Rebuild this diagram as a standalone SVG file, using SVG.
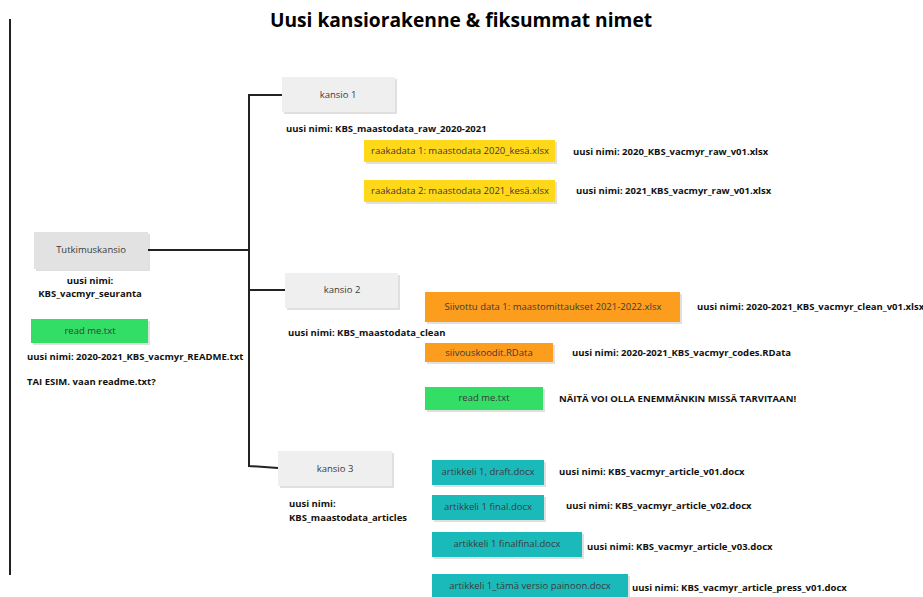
<svg xmlns="http://www.w3.org/2000/svg" width="923" height="597" viewBox="0 0 923 597">
<style>
text{font-family:"Open Sans","Noto Sans","Liberation Sans",sans-serif;}
.title{font-size:19.2px;font-weight:bold;fill:#000;text-anchor:middle;}
.bt{font-size:9.5px;fill:#3a3a3a;text-anchor:middle;}
.lb{font-size:9.5px;font-weight:bold;fill:#111;}
.lbc{font-size:9.5px;font-weight:bold;fill:#111;text-anchor:middle;}
.sh{fill:#000;opacity:0.12;}
.gray{fill:#efefef;}
.gray2{fill:#e2e2e2;}
.yel{fill:#ffd819;}
.ora{fill:#fd9d1e;}
.grn{fill:#33de66;}
.teal{fill:#1bbaba;}
.ln{stroke:#222;stroke-width:2;fill:none;}
</style>
<rect width="923" height="597" fill="#fff"/>
<text class="title" x="461" y="27">Uusi kansiorakenne &amp; fiksummat nimet</text>
<g id="connectors">
<line class="ln" x1="10" y1="19" x2="10" y2="575"/>
<polyline class="ln" points="283,95 249,95 249,466 278,468"/>
<line class="ln" x1="146" y1="250" x2="249" y2="250"/>
<line class="ln" x1="250" y1="290" x2="286" y2="290"/>
</g>
<g id="tutkimuskansio">
<rect class="sh" x="36" y="234" width="114" height="37"/>
<rect class="gray2" x="34" y="232" width="114" height="37"/>
<text class="bt" x="91" y="253">Tutkimuskansio</text>
<text class="lbc" x="90" y="284">uusi nimi:</text>
<text class="lbc" x="90" y="297">KBS_vacmyr_seuranta</text>
</g>
<g id="readme1">
<rect class="sh" x="33" y="321" width="117" height="24"/>
<rect class="grn" x="31" y="319" width="117" height="24"/>
<text class="bt" x="90" y="334">read me.txt</text>
<text class="lb" x="27" y="360">uusi nimi: 2020-2021_KBS_vacmyr_README.txt</text>
<text class="lb" x="27" y="385">TAI ESIM. vaan readme.txt?</text>
</g>
<g id="kansio1">
<rect class="sh" x="284" y="79" width="113" height="35"/>
<rect class="gray" x="282" y="77" width="113" height="35"/>
<text class="bt" x="338" y="98">kansio 1</text>
<text class="lb" x="286" y="132">uusi nimi: KBS_maastodata_raw_2020-2021</text>
</g>
<g id="raakadata1">
<rect class="sh" x="366" y="142" width="191" height="22"/>
<rect class="yel" x="364" y="140" width="191" height="22"/>
<text class="bt" x="460" y="154">raakadata 1: maastodata 2020_kesä.xlsx</text>
<text class="lb" x="573" y="155">uusi nimi: 2020_KBS_vacmyr_raw_v01.xlsx</text>
</g>
<g id="raakadata2">
<rect class="sh" x="366" y="182" width="191" height="22"/>
<rect class="yel" x="364" y="180" width="191" height="22"/>
<text class="bt" x="460" y="194">raakadata 2: maastodata 2021_kesä.xlsx</text>
<text class="lb" x="576" y="194">uusi nimi: 2021_KBS_vacmyr_raw_v01.xlsx</text>
</g>
<g id="kansio2">
<rect class="sh" x="287" y="275" width="113" height="35"/>
<rect class="gray" x="285" y="273" width="113" height="35"/>
<text class="bt" x="342" y="293">kansio 2</text>
<text class="lb" x="288" y="336">uusi nimi: KBS_maastodata_clean</text>
</g>
<g id="siivottu">
<rect class="sh" x="427" y="294" width="255" height="30"/>
<rect class="ora" x="425" y="292" width="255" height="30"/>
<text class="bt" x="553" y="310">Siivottu data 1: maastomittaukset 2021-2022.xlsx</text>
<text class="lb" x="697" y="310">uusi nimi: 2020-2021_KBS_vacmyr_clean_v01.xlsx</text>
</g>
<g id="siivouskoodit">
<rect class="sh" x="427" y="345" width="128" height="19"/>
<rect class="ora" x="425" y="343" width="128" height="19"/>
<text class="bt" x="489" y="356">siivouskoodit.RData</text>
<text class="lb" x="572" y="356">uusi nimi: 2020-2021_KBS_vacmyr_codes.RData</text>
</g>
<g id="readme2">
<rect class="sh" x="427" y="389" width="118" height="23"/>
<rect class="grn" x="425" y="387" width="118" height="23"/>
<text class="bt" x="484" y="401">read me.txt</text>
<text class="lb" x="559" y="402">NÄITÄ VOI OLLA ENEMMÄNKIN MISSÄ TARVITAAN!</text>
</g>
<g id="kansio3">
<rect class="sh" x="280" y="453" width="114" height="35"/>
<rect class="gray" x="278" y="451" width="114" height="35"/>
<text class="bt" x="335" y="472">kansio 3</text>
<text class="lb" x="289" y="507">uusi nimi:</text>
<text class="lb" x="289" y="521">KBS_maastodata_articles</text>
</g>
<g id="artikkeli-draft">
<rect class="sh" x="434" y="462" width="112" height="25"/>
<rect class="teal" x="432" y="460" width="112" height="25"/>
<text class="bt" x="488" y="475">artikkeli 1, draft.docx</text>
<text class="lb" x="559" y="475">uusi nimi: KBS_vacmyr_article_v01.docx</text>
</g>
<g id="artikkeli-final">
<rect class="sh" x="434" y="497" width="112" height="25"/>
<rect class="teal" x="432" y="495" width="112" height="25"/>
<text class="bt" x="488" y="510">artikkeli 1 final.docx</text>
<text class="lb" x="566" y="509">uusi nimi: KBS_vacmyr_article_v02.docx</text>
</g>
<g id="artikkeli-finalfinal">
<rect class="sh" x="434" y="534" width="150" height="25"/>
<rect class="teal" x="432" y="532" width="150" height="25"/>
<text class="bt" x="507" y="547">artikkeli 1 finalfinal.docx</text>
<text class="lb" x="587" y="550">uusi nimi: KBS_vacmyr_article_v03.docx</text>
</g>
<g id="artikkeli-press">
<rect class="sh" x="434" y="576" width="196" height="25"/>
<rect class="teal" x="432" y="574" width="196" height="25"/>
<text class="bt" x="530" y="589">artikkeli 1_tämä versio painoon.docx</text>
<text class="lb" x="632" y="591">uusi nimi: KBS_vacmyr_article_press_v01.docx</text>
</g>
</svg>
